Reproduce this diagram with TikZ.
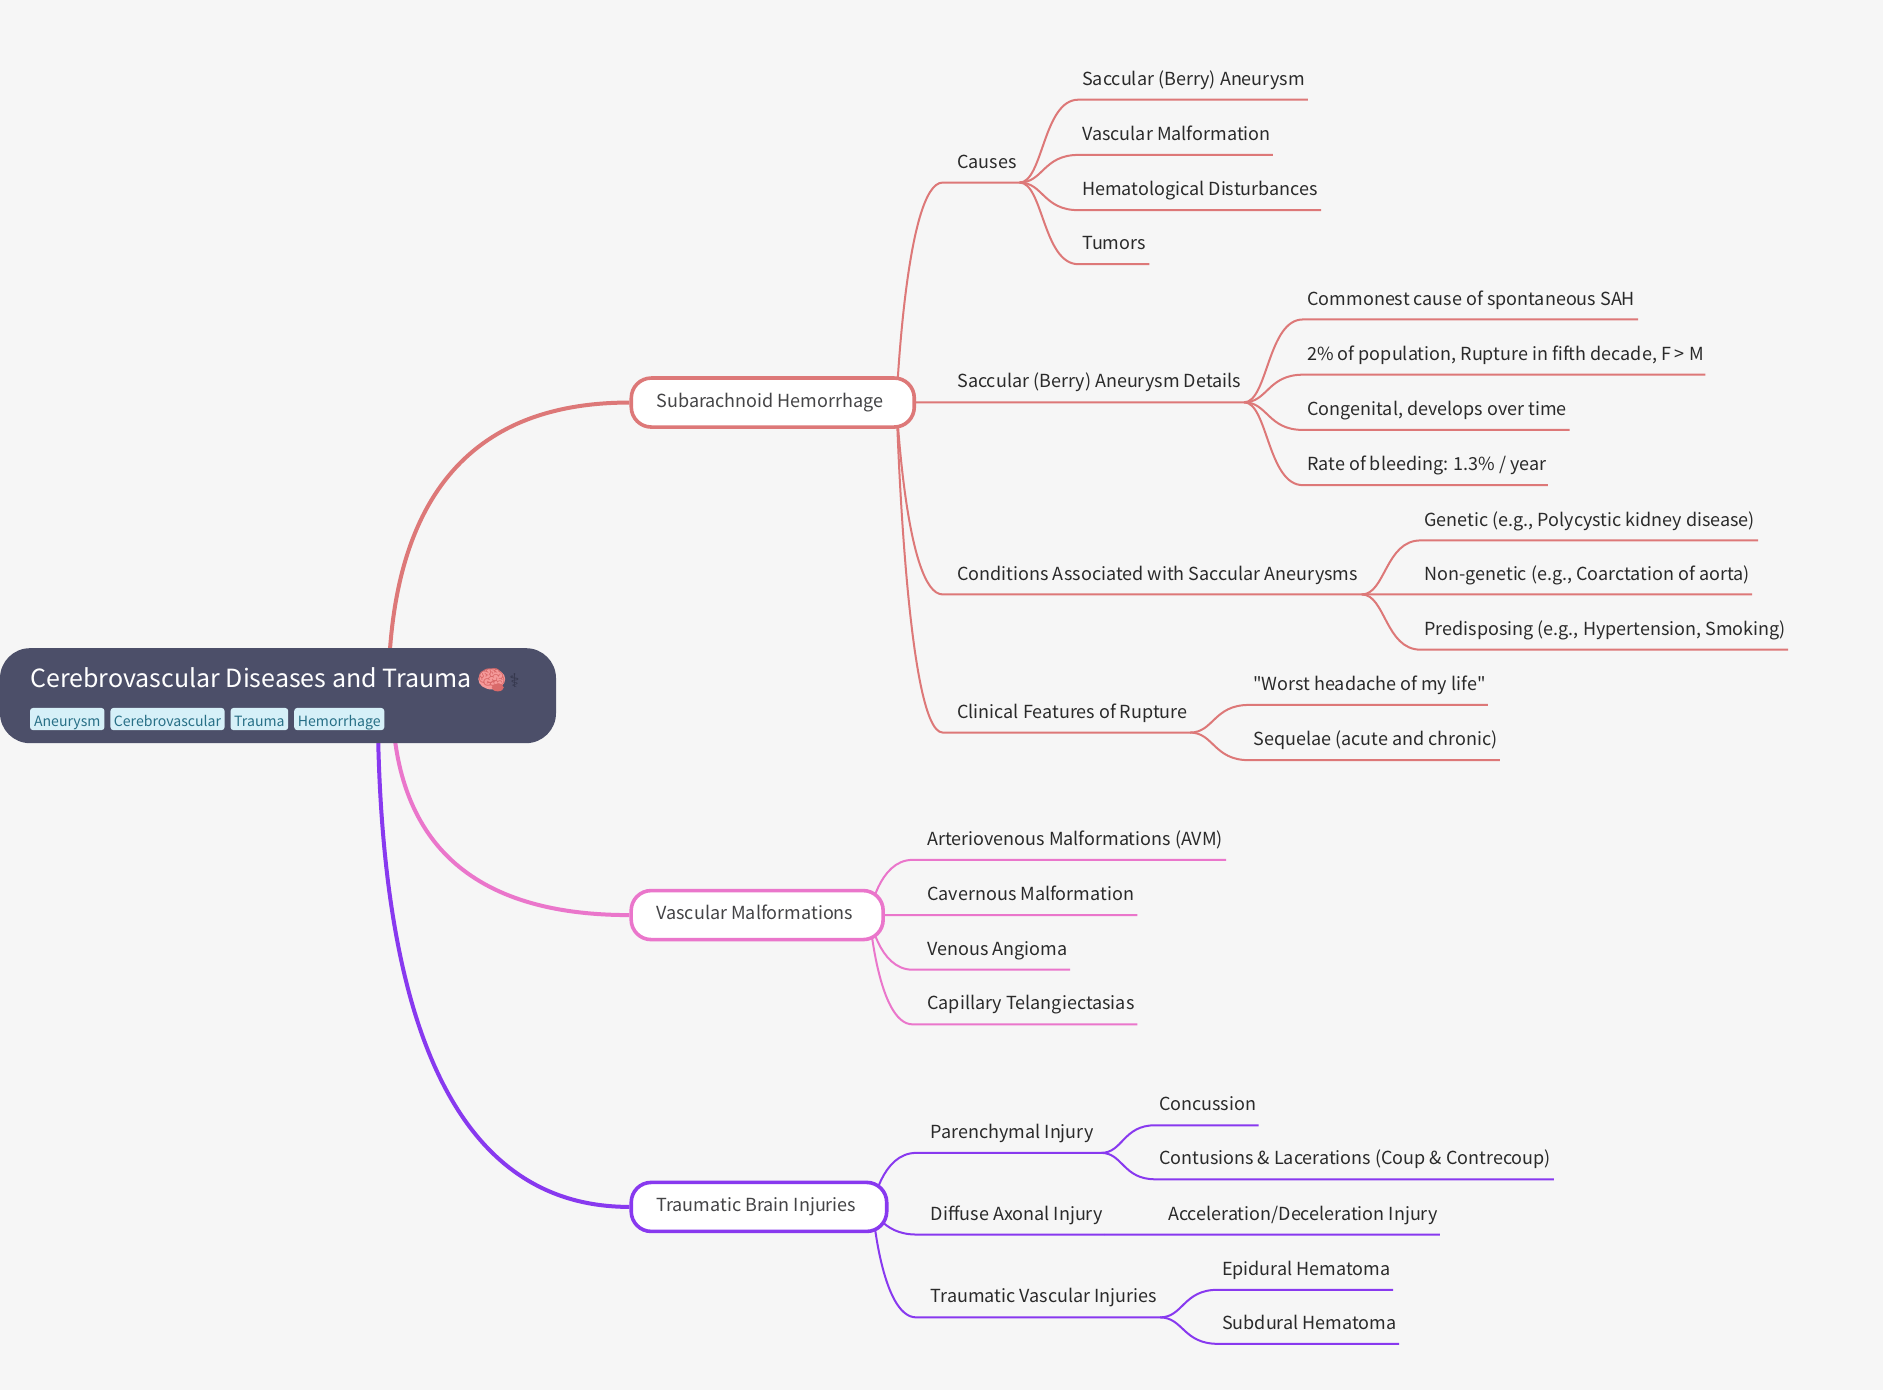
\documentclass[tikz,border=0pt]{standalone}
\usepackage{fontspec}
\setmainfont{Noto Sans CJK SC}
\newfontfamily\plainfont{Noto Sans CJK SC}
\newfontfamily\emojifont{Noto Emoji}
\newfontfamily\symfont{DejaVu Sans}
\usetikzlibrary{calc}
\definecolor{canvasbg}{HTML}{F6F6F6}
\definecolor{rootbg}{HTML}{4C4F69}
\definecolor{rootdark}{HTML}{33354A}
\definecolor{brainpink}{HTML}{F59A9A}
\definecolor{brainred}{HTML}{D96A6A}
\definecolor{tagbg}{HTML}{D6F0F8}
\definecolor{tagtx}{HTML}{276F86}
\definecolor{cred}{HTML}{DD7878}
\definecolor{cpink}{HTML}{EA76CB}
\definecolor{cpurp}{HTML}{8839EF}
\definecolor{leaftx}{HTML}{2A2A2A}
\definecolor{nodetx}{HTML}{444446}
\pgfdeclarelayer{lines}
\pgfsetlayers{lines,main}
\tikzset{
  mainlink/.style={line width=4pt},
  sublink/.style={line width=2pt},
  rootbox/.style={fill=rootbg,rounded corners=30pt,draw=none},
  lvlbox/.style={fill=white,line width=3.6pt,rounded corners=20pt},
  tagbox/.style={fill=tagbg,rounded corners=3pt,draw=none},
  leaftext/.style={anchor=base west,inner sep=0pt,text=leaftx,font=\fontsize{18pt}{22pt}\selectfont},
  nodetext/.style={anchor=base west,inner sep=0pt,text=nodetx,font=\fontsize{18pt}{22pt}\selectfont},
  roottext/.style={anchor=base west,inner sep=0pt,text=white,font=\fontsize{25pt}{30pt}\selectfont},
  tagtext/.style={anchor=base,inner sep=0pt,text=tagtx,font=\fontsize{14.1pt}{17pt}\selectfont},
}
% main branch: quadratic curve from #2 to #3
\newcommand{\mainbranch}[3]{%
  \draw[mainlink,#1] (#2) .. controls ($(#2)!.6667!(#3-|#2)$) and ($(#3)!.6667!(#3-|#2)$) .. (#3);}
% first level: colour, from, name, x2, line y, line end, text x, text
\newcommand{\firstsub}[8]{%
  \coordinate (#3in) at (#4,#5);
  \coordinate (#3out) at (#6,#5);
  \node[leaftext] (#3) at (#7,#5-12) {#8};
  \begin{pgfonlayer}{lines}
  \draw[sublink,#1] (#2) .. controls (#2) and ($(#3in-|#2)!.2!(#3in)$) .. (#3in) -- (#3out);
  \end{pgfonlayer}}
% deeper level: S curve
\newcommand{\deepsub}[8]{%
  \coordinate (#3in) at (#4,#5);
  \coordinate (#3out) at (#6,#5);
  \node[leaftext] (#3) at (#7,#5-12) {#8};
  \begin{pgfonlayer}{lines}
  \draw[sublink,#1] (#2) .. controls ($(#2)!.4!(#2-|#3in)$) and ($(#3in-|#2)!.4!(#3in)$) .. (#3in) -- (#3out);
  \end{pgfonlayer}}
\begin{document}
\begin{tikzpicture}[x=1.20089pt,y=-1.20089pt]
\useasboundingbox (0,0) rectangle (1568,1157.5);
\begin{pgfonlayer}{lines}
\fill[canvasbg] (0,0) rectangle (1568,1157.5);
\end{pgfonlayer}
% root
\node[rootbox,minimum width=556pt,minimum height=95pt,inner sep=0pt] (root) at (231.5,579.3) {};
\node[roottext] (roottitle) at (25,572.2) {Cerebrovascular Diseases and Trauma};
\fill[brainpink] (409.5,565.5) ellipse [x radius=11.2,y radius=8.6];
\fill[brainred] (414.5,572.5) ellipse [x radius=5,y radius=3.2];
\node[inner sep=0pt,text=brainred,font=\emojifont\fontsize{23pt}{26pt}\selectfont] (brain) at (409.5,565.5) {🧠};
\node[inner sep=0pt,text=rootdark,font=\symfont\fontsize{19pt}{22pt}\selectfont] (staff) at (428.5,567) {⚕};
\foreach \nm/\lft/\rgt/\txt in {tagA/25/87/Aneurysm,tagB/92/187/Cerebrovascular,tagC/192/240/Trauma,tagD/245/320/Hemorrhage}{
  \fill[tagbox] (\lft,589.5) rectangle (\rgt,608);
  \node[tagtext] (\nm) at ({(\lft+\rgt)/2},604.6) {\txt};
}
% first level boxes
\node[lvlbox,draw=cred,minimum width=283pt,minimum height=49pt,inner sep=0pt] (sah) at (643.5,335.2) {};
\node[nodetext] (sahtext) at (546.5,339) {Subarachnoid Hemorrhage};
\node[lvlbox,draw=cpink,minimum width=252pt,minimum height=49pt,inner sep=0pt] (vm) at (630.5,762) {};
\node[nodetext] (vmtext) at (546.5,765.5) {Vascular Malformations};
\node[lvlbox,draw=cpurp,minimum width=255.5pt,minimum height=49pt,inner sep=0pt] (tbi) at (632,1005) {};
\node[nodetext] (tbitext) at (546.5,1008.5) {Traumatic Brain Injuries};
% main links
\coordinate (rootr) at (323.4,579);
\coordinate (rootp) at (326.6,579);
\coordinate (rootv) at (314.5,579);
\begin{pgfonlayer}{lines}
\mainbranch{cred}{rootr}{sah.west}
\mainbranch{cpink}{rootp}{vm.west}
\mainbranch{cpurp}{rootv}{tbi.west}
\end{pgfonlayer}
% Subarachnoid
\coordinate (sahfrom) at (746.5,335);
\firstsub{cred}{sahfrom}{causes}{785}{152}{849}{797}{Causes}
\firstsub{cred}{sahfrom}{details}{785}{335}{1036}{797}{Saccular (Berry) Aneurysm Details}
\firstsub{cred}{sahfrom}{cond}{785}{495}{1134}{797}{Conditions Associated with Saccular Aneurysms}
\firstsub{cred}{sahfrom}{clin}{785}{610}{991}{797}{Clinical Features of Rupture}
\deepsub{cred}{causesout}{ca}{898}{83}{1089}{901}{Saccular (Berry) Aneurysm}
\deepsub{cred}{causesout}{cb}{898}{129}{1060}{901}{Vascular Malformation}
\deepsub{cred}{causesout}{cc}{898}{175}{1100}{901}{Hematological Disturbances}
\deepsub{cred}{causesout}{cd}{898}{220}{957}{901}{Tumors}
\deepsub{cred}{detailsout}{da}{1085}{266}{1364}{1088.5}{Commonest cause of spontaneous SAH}
\deepsub{cred}{detailsout}{db}{1085}{312}{1420}{1088.5}{2\% of population, Rupture in fifth decade, F > M}
\deepsub{cred}{detailsout}{dc}{1085}{358}{1307}{1088.5}{Congenital, develops over time}
\deepsub{cred}{detailsout}{dd}{1085}{404}{1289}{1088.5}{Rate of bleeding: 1.3\% / year}
\deepsub{cred}{condout}{ea}{1183}{450}{1464}{1186}{Genetic (e.g., Polycystic kidney disease)}
\deepsub{cred}{condout}{eb}{1183}{495}{1459}{1186}{Non-genetic (e.g., Coarctation of aorta)}
\deepsub{cred}{condout}{ec}{1183}{541}{1489}{1186}{Predisposing (e.g., Hypertension, Smoking)}
\deepsub{cred}{clinout}{fa}{1040}{587}{1239}{1043.5}{{\plainfont "Worst headache of my life"}}
\deepsub{cred}{clinout}{fb}{1040}{633}{1249}{1043.5}{Sequelae (acute and chronic)}
% Vascular
\coordinate (vmfrom) at (724,762);
\firstsub{cpink}{vmfrom}{avm}{760}{716}{1021}{772}{Arteriovenous Malformations (AVM)}
\firstsub{cpink}{vmfrom}{cav}{760}{762}{947}{772}{Cavernous Malformation}
\firstsub{cpink}{vmfrom}{ven}{760}{807.5}{891}{772}{Venous Angioma}
\firstsub{cpink}{vmfrom}{cap}{760}{853}{947}{772}{Capillary Telangiectasias}
% Traumatic
\coordinate (tbifrom) at (726.5,1005);
\firstsub{cpurp}{tbifrom}{par}{763}{960}{917}{775}{Parenchymal Injury}
\firstsub{cpurp}{tbifrom}{dif}{763}{1028}{920}{775}{Diffuse Axonal Injury}
\firstsub{cpurp}{tbifrom}{tvi}{763}{1097}{966}{775}{Traumatic Vascular Injuries}
\deepsub{cpurp}{parout}{pa}{962}{937}{1048}{965}{Concussion}
\deepsub{cpurp}{parout}{pb}{962}{982}{1294}{965}{Contusions \& Lacerations (Coup \& Contrecoup)}
\deepsub{cpurp}{difout}{aa}{969}{1028}{1199}{972.5}{Acceleration/Deceleration Injury}
\deepsub{cpurp}{tviout}{ta}{1014}{1074}{1160}{1017.5}{Epidural Hematoma}
\deepsub{cpurp}{tviout}{tb}{1014}{1119}{1165}{1017.5}{Subdural Hematoma}
\end{tikzpicture}
\end{document}
